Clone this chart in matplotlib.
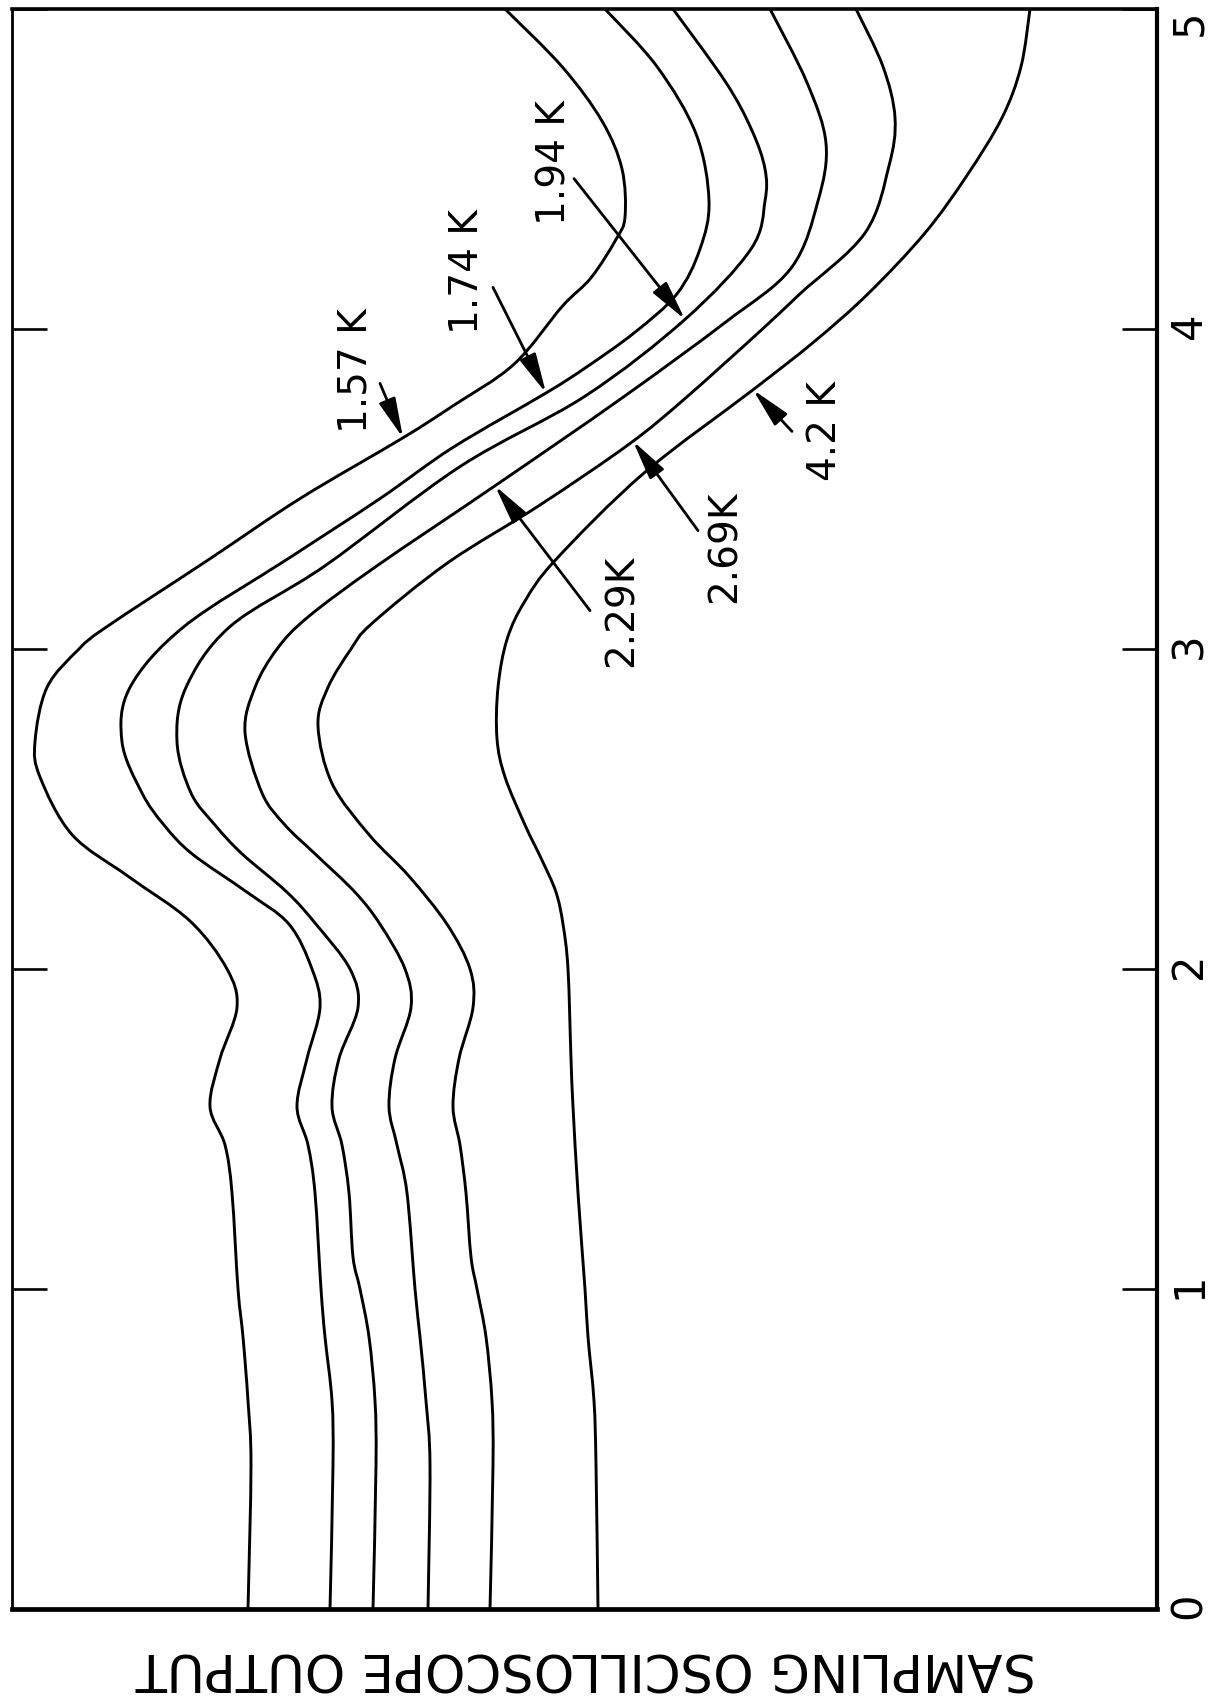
import numpy as np
import matplotlib
matplotlib.use("Agg")
import matplotlib.pyplot as plt
from matplotlib.path import Path
from matplotlib.patches import PathPatch

# Sampling oscilloscope traces, one per temperature.
# t = time axis (drawn vertically, 0 at the bottom)
# s = scope output, arbitrary units (drawn horizontally, grows to the left)

t_157 = [0, 0.45, 0.65, 0.85, 1.0, 1.3, 1.45, 1.57, 1.72, 1.88, 2.0, 2.15, 2.29, 2.42,
         2.6, 2.71, 2.88, 3.0, 3.07, 3.28, 3.47, 3.66, 3.76, 3.89, 4.07, 4.16, 4.28,
         4.35, 4.5, 4.65, 4.82, 5.0]
s_157 = [9.09, 9.06, 9.09, 9.14, 9.19, 9.25, 9.32, 9.47, 9.37, 9.20, 9.30, 9.67, 10.29, 10.85,
         11.17, 11.22, 11.10, 10.78, 10.50, 9.48, 8.57, 7.54, 7.04, 6.43, 5.95, 5.66, 5.41,
         5.32, 5.35, 5.55, 5.95, 6.52]

t_174 = [0, 0.45, 0.65, 0.85, 1.0, 1.3, 1.45, 1.57, 1.72, 1.88, 2.0, 2.14, 2.24, 2.36,
         2.45, 2.55, 2.71, 2.88, 3.07, 3.28, 3.47, 3.63, 3.80, 3.88, 3.99, 4.11, 4.25,
         4.40, 4.61, 4.82, 5.0]
s_174 = [8.27, 8.24, 8.25, 8.32, 8.36, 8.42, 8.49, 8.60, 8.50, 8.37, 8.45, 8.68, 9.10, 9.65,
         9.93, 10.15, 10.35, 10.27, 9.73, 8.70, 7.77, 7.04, 6.11, 5.71, 5.22, 4.80, 4.57,
         4.48, 4.61, 5.00, 5.52]

t_194 = [0, 0.45, 0.65, 0.85, 1.0, 1.1, 1.3, 1.45, 1.57, 1.72, 1.88, 2.0, 2.14, 2.24,
         2.36, 2.45, 2.55, 2.71, 2.88, 3.07, 3.26, 3.57, 3.79, 4.03, 4.25, 4.40, 4.50,
         4.62, 4.77, 5.0]
s_194 = [7.84, 7.81, 7.82, 7.88, 7.97, 8.04, 8.08, 8.15, 8.25, 8.18, 7.99, 8.07, 8.41, 8.70,
         9.15, 9.42, 9.66, 9.80, 9.71, 9.27, 8.32, 6.97, 5.72, 4.72, 4.06, 3.92, 3.92,
         4.05, 4.31, 4.84]

t_229 = [0, 0.45, 0.65, 0.85, 1.0, 1.3, 1.45, 1.57, 1.72, 1.88, 2.0, 2.14, 2.24, 2.36,
         2.45, 2.55, 2.74, 2.88, 3.0, 3.1, 3.26, 3.51, 3.78, 4.02, 4.19, 4.40, 4.58,
         4.77, 5.0]
s_229 = [7.29, 7.27, 7.31, 7.37, 7.42, 7.50, 7.60, 7.68, 7.62, 7.46, 7.52, 7.77, 8.02, 8.42,
         8.72, 8.95, 9.12, 9.02, 8.80, 8.49, 7.80, 6.62, 5.37, 4.32, 3.66, 3.39, 3.31,
         3.50, 3.87]

t_269 = [0, 0.45, 0.65, 0.85, 1.0, 1.1, 1.3, 1.45, 1.57, 1.72, 1.88, 2.0, 2.14, 2.29,
         2.42, 2.58, 2.76, 2.88, 3.0, 3.08, 3.27, 3.45, 3.64, 3.78, 3.99, 4.11, 4.30,
         4.51, 4.66, 4.82, 5.0]
s_269 = [6.67, 6.64, 6.65, 6.71, 6.80, 6.86, 6.91, 6.97, 7.04, 6.98, 6.84, 6.87, 7.10, 7.48,
         7.88, 8.25, 8.39, 8.29, 8.06, 7.85, 7.09, 6.17, 5.28, 4.73, 3.98, 3.57, 2.92,
         2.68, 2.62, 2.74, 3.01]

t_420 = [0, 0.45, 0.65, 0.85, 1.0, 1.3, 1.57, 1.72, 2.0, 2.14, 2.24, 2.34, 2.45, 2.6,
         2.72, 2.88, 3.03, 3.15, 3.28, 3.55, 3.81, 3.96, 4.11, 4.30, 4.48, 4.66, 4.82, 5.0]
s_420 = [5.59, 5.61, 5.63, 5.69, 5.72, 5.79, 5.84, 5.86, 5.89, 5.94, 6.01, 6.15, 6.32, 6.52,
         6.60, 6.59, 6.50, 6.32, 6.01, 5.13, 4.04, 3.43, 2.89, 2.32, 1.90, 1.55, 1.36, 1.27]

traces = [
    (t_157, s_157),
    (t_174, s_174),
    (t_194, s_194),
    (t_229, s_229),
    (t_269, s_269),
    (t_420, s_420),
]

# curve labels: text, which trace, time where the arrow hits, arrow tail (s, t), text centre (s, t)
labels = [
    ("1.57 K", 0, 3.66, (7.77, 3.83), (8.01, 3.87)),
    ("1.74 K", 1, 3.80, (6.64, 4.13), (6.90, 4.18)),
    ("1.94 K", 2, 4.03, (5.83, 4.47), (6.02, 4.52)),
    ("2.29K", 3, 3.51, (5.67, 3.12), (5.35, 3.12)),
    ("2.69K", 4, 3.65, (4.59, 3.37), (4.32, 3.32)),
    ("4.2 K", 5, 3.81, (3.65, 3.68), (3.32, 3.68)),
]

time_ticks = [0, 1, 2, 3, 4, 5]


def smooth_path(xs, ys):
    """Catmull-Rom through the read points, turned into cubic bezier segments
    so the pen-drawn traces don't look like polylines."""
    p = np.column_stack([xs, ys]).astype(float)
    p_ext = np.vstack([p[0], p, p[-1]])  # repeat the ends
    verts = [p[0]]
    codes = [Path.MOVETO]
    for i in range(1, len(p_ext) - 2):
        p0, p1, p2, p3 = p_ext[i - 1], p_ext[i], p_ext[i + 1], p_ext[i + 2]
        verts += [p1 + (p2 - p0) / 6.0, p2 - (p3 - p1) / 6.0, p2]
        codes += [Path.CURVE4] * 3
    return Path(verts, codes)


plt.rcParams['font.family'] = ['DejaVu Sans']

fig = plt.figure(figsize=(12.09, 17.02), dpi=100)
ax = fig.add_axes([12 / 1209, 1 - 1609 / 1702, 1145 / 1209, 1600 / 1702])

for t, s in traces:
    ax.add_patch(PathPatch(smooth_path(s, t), facecolor='none', edgecolor='black',
                           lw=2.1, capstyle='butt', joinstyle='round'))

for text, idx, t_hit, tail, pos in labels:
    t, s = traces[idx]
    s_hit = np.interp(t_hit, t, s)
    ax.annotate("", xy=(s_hit, t_hit), xytext=tail,
                arrowprops=dict(arrowstyle="-|>,head_length=1.1,head_width=0.24",
                                mutation_scale=22, lw=2.0, color='black',
                                shrinkA=0, shrinkB=0))
    ax.text(pos[0], pos[1], text, rotation=90, ha='center', va='center', fontsize=28)

ax.set_xlim(11.45, 0)
ax.set_ylim(0, 5)
ax.set_xticks([])
ax.set_yticks(time_ticks)
ax.set_yticklabels([str(v) for v in time_ticks])
ax.tick_params(axis='y', direction='in', length=25, width=1.9, left=True, right=True,
               labelleft=False, labelright=True, labelrotation=90, labelsize=30, pad=8)
# the top label sits right at the page edge, nudge it inside
ax.get_yticklabels()[-1].set_va('top')

ax.spines['left'].set_linewidth(2.0)
ax.spines['top'].set_linewidth(2.6)
ax.spines['right'].set_linewidth(3.0)
ax.spines['bottom'].set_linewidth(3.4)

fig.text(586 / 1209, 1 - 1667 / 1702, "SAMPLING OSCILLOSCOPE OUTPUT",
         rotation=180, ha='center', va='center', fontsize=37)

fig.savefig("out.png", dpi=100, facecolor='white')
